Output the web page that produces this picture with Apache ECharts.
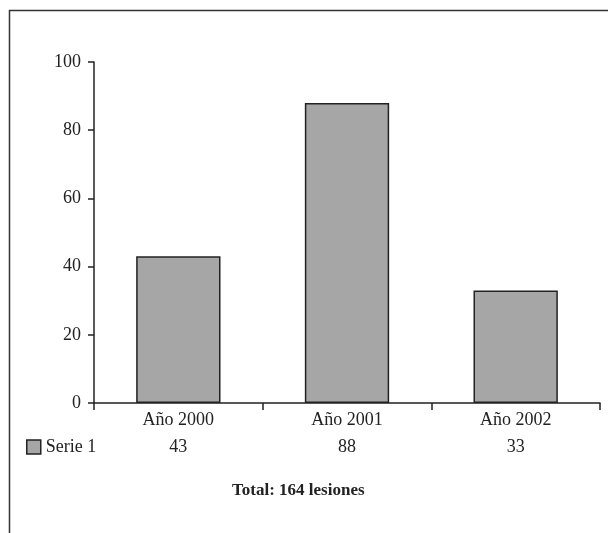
<!DOCTYPE html>
<html>
<head>
<meta charset="utf-8">
<script src="https://cdn.jsdelivr.net/npm/echarts@6/dist/echarts.min.js"></script>
<style>html,body{margin:0;padding:0;background:#fff}#c{width:608px;height:533px}</style>
</head>
<body>
<div id="c"></div>
<script>
const categories = ['Año 2000', 'Año 2001', 'Año 2002'];
const seriesName = 'Serie 1';
const values = [43, 88, 33];
const yTicks = [0, 20, 40, 60, 80, 100];
const totalText = 'Total: 164 lesiones';

const FONT = '"Liberation Serif", "DejaVu Serif", serif';
const chart = echarts.init(document.getElementById('c'), null, {renderer: 'canvas'});
chart.setOption({
  animation: false,
  backgroundColor: '#fff',
  textStyle: {fontFamily: FONT, color: '#222'},
  grid: {left: 94, right: 8, top: 62, bottom: 130, containLabel: false},
  title: {
    text: totalText,
    left: 232, top: 482, padding: 0,
    textStyle: {fontFamily: FONT, fontWeight: 'bold', fontSize: 17, color: '#222'}
  },
  legend: {
    data: [seriesName],
    left: 26, top: 438, padding: 0,
    icon: 'rect',
    itemWidth: 14, itemHeight: 14, itemGap: 6,
    textStyle: {fontFamily: FONT, fontSize: 18, color: '#222', padding: [0, 0, 0, 0]},
    itemStyle: {color: '#a6a6a6', borderColor: '#222', borderWidth: 1.5}
  },
  xAxis: {
    type: 'category',
    data: categories,
    axisLine: {lineStyle: {color: '#222', width: 1.5}},
    axisTick: {show: true, alignWithLabel: false, length: 7, lineStyle: {color: '#222', width: 1.5}},
    axisLabel: {
      margin: 4,
      formatter: function (v, i) {
        return '{a|' + v + '}\n{b|' + values[i] + '}';
      },
      rich: {
        a: {fontFamily: FONT, fontSize: 18, color: '#222', lineHeight: 27},
        b: {fontFamily: FONT, fontSize: 18, color: '#222', lineHeight: 27}
      }
    },
    splitLine: {show: false}
  },
  yAxis: {
    type: 'value',
    min: yTicks[0], max: yTicks[yTicks.length - 1], interval: 20,
    axisLine: {show: true, lineStyle: {color: '#222', width: 1.5}},
    axisTick: {show: true, length: 6, lineStyle: {color: '#222', width: 1.5}},
    axisLabel: {margin: 13, fontFamily: FONT, fontSize: 18, color: '#222'},
    splitLine: {show: false}
  },
  series: [{
    name: seriesName,
    type: 'bar',
    data: values,
    barWidth: '50%',
    itemStyle: {color: '#a6a6a6', borderColor: '#222', borderWidth: 1.5}
  }],
  graphic: [{
    type: 'rect',
    shape: {x: 9.5, y: 10.5, width: 640, height: 560},
    style: {fill: 'none', stroke: '#333', lineWidth: 1.5},
    silent: true
  }]
});
</script>
</body>
</html>
